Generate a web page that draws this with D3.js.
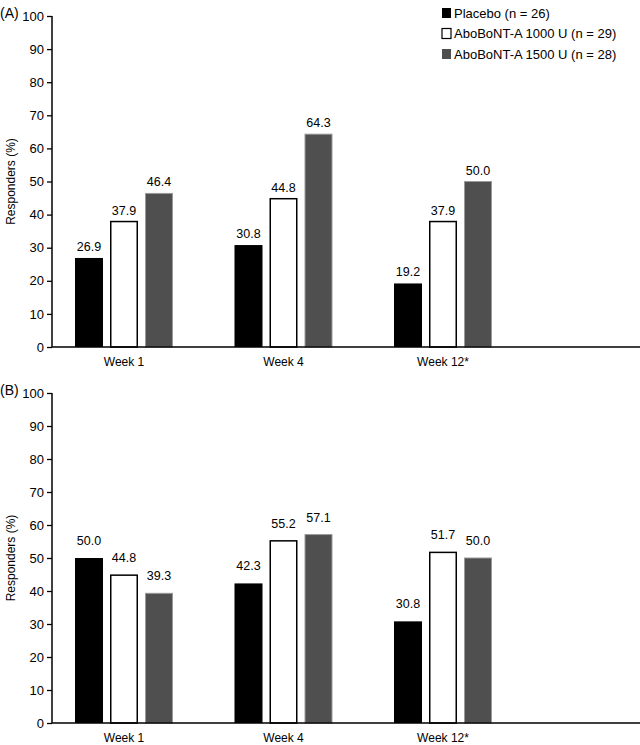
<!DOCTYPE html>
<html>
<head>
<meta charset="utf-8">
<script src="https://cdn.jsdelivr.net/npm/d3@7"></script>
<style>
  html, body { margin: 0; padding: 0; background: #fff; }
  svg { display: block; font-family: "Liberation Sans", Arial, Helvetica, sans-serif; }
</style>
</head>
<body>
<script>
const weeks = ['Week 1', 'Week 4', 'Week 12*'];
const groups = ['Placebo (n = 26)', 'AboBoNT-A 1000 U (n = 29)', 'AboBoNT-A 1500 U (n = 28)'];
const panelA = [
  [26.9, 37.9, 46.4],
  [30.8, 44.8, 64.3],
  [19.2, 37.9, 50.0]
];
const panelB = [
  [50.0, 44.8, 39.3],
  [42.3, 55.2, 57.1],
  [30.8, 51.7, 50.0]
];
const yTicks = [0, 10, 20, 30, 40, 50, 60, 70, 80, 90, 100];

const w = 640;
const h = 745;
const fills = ['#000000', '#ffffff', '#4f4f4f'];

const svg = d3.select('body').append('svg').attr('width', w).attr('height', h);

const xScale = d3.scalePoint().domain(weeks).range([124, 443]);
const inner = d3.scaleBand().domain(d3.range(3)).range([-49, 49]).paddingInner(0.2);

const drawPanel = (data, label, top, bottom, labelGap) => {
  const g = svg.append('g');
  const yScale = d3.scaleLinear().domain([0, 100]).range([bottom, top]);

  // bars + value labels
  weeks.forEach((wk, i) => {
    const bg = g.append('g').attr('transform', `translate(${xScale(wk)},0)`);
    bg.selectAll('rect')
      .data(data[i])
      .enter()
      .append('rect')
      .attr('x', (d, j) => inner(j) + (j === 1 ? 0.75 : j === 2 ? 0.5 : 0))
      .attr('y', (d) => yScale(d))
      .attr('width', (d, j) => inner.bandwidth() - (j === 1 ? 1.5 : j === 2 ? 1 : 0))
      .attr('height', (d) => bottom - yScale(d))
      .attr('fill', (d, j) => fills[j])
      .attr('stroke', (d, j) => (j === 1 ? '#000' : j === 2 ? '#9a9a9a' : 'none'))
      .attr('stroke-width', (d, j) => (j === 1 ? 1.5 : 1));
    bg.selectAll('text')
      .data(data[i])
      .enter()
      .append('text')
      .attr('x', (d, j) => inner(j) + inner.bandwidth() / 2)
      .attr('y', (d) => yScale(d) - labelGap)
      .attr('text-anchor', 'middle')
      .attr('font-size', 12.5)
      .text((d) => d.toFixed(1));
  });

  const yAxis = d3.axisLeft(yScale).tickValues(yTicks).tickSize(5).tickPadding(3);
  const ya = g.append('g').attr('transform', 'translate(52,0)').call(yAxis);
  ya.select('.domain').attr('stroke-width', 1.5).attr('d', `M0,${bottom}V${top}`);
  ya.selectAll('.tick line').attr('stroke-width', 1.3);
  ya.selectAll('.tick text').attr('font-size', 13).attr('font-family', null).attr('fill', '#000');

  g.append('line')
    .attr('x1', 52).attr('x2', 640)
    .attr('y1', bottom).attr('y2', bottom)
    .attr('stroke', '#000').attr('stroke-width', 1.5);

  g.selectAll('.wk')
    .data(weeks)
    .enter()
    .append('text')
    .attr('class', 'wk')
    .attr('x', (d) => xScale(d))
    .attr('y', bottom + 19)
    .attr('text-anchor', 'middle')
    .attr('font-size', 12)
    .text((d) => d);

  g.append('text')
    .attr('transform', `translate(15,${(top + bottom) / 2}) rotate(-90)`)
    .attr('text-anchor', 'middle')
    .attr('font-size', 12)
    .text('Responders (%)');

  g.append('text')
    .attr('x', 0)
    .attr('y', top + 2)
    .attr('font-size', 14)
    .text(label);
};

drawPanel(panelA, '(A)', 16, 347, 7);
drawPanel(panelB, '(B)', 393, 723, 13);

// legend
const legend = svg.append('g').attr('id', 'legend');
groups.forEach((name, i) => {
  const yy = 13 + i * 20.5;
  legend.append('rect')
    .attr('x', 442).attr('y', yy - 5)
    .attr('width', 9).attr('height', 10)
    .attr('fill', fills[i])
    .attr('stroke', i === 1 ? '#000' : 'none')
    .attr('stroke-width', 1.2);
  legend.append('text')
    .attr('x', 454).attr('y', yy + 4.5)
    .attr('font-size', 13)
    .text(name);
});
</script>
</body>
</html>
